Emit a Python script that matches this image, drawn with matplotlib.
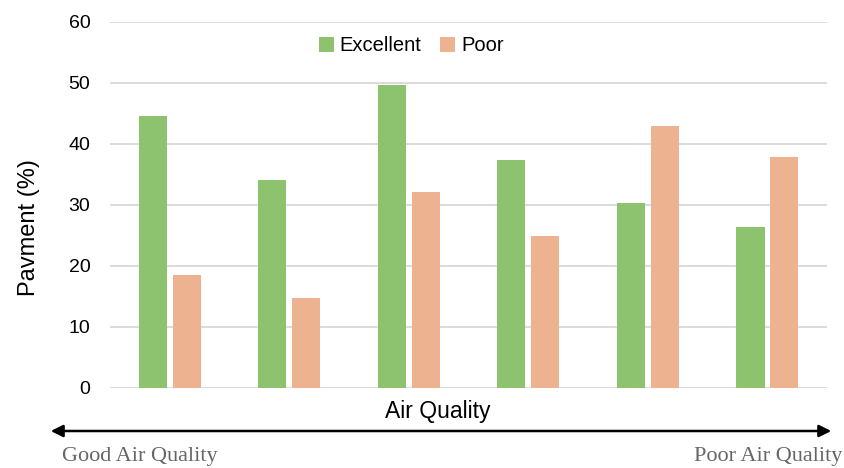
import matplotlib
matplotlib.use("Agg")
import matplotlib.pyplot as plt
import numpy as np

plt.rcParams["font.family"] = ["Liberation Sans", "DejaVu Sans"]

categories = ["1", "2", "3", "4", "5", "6"]
excellent = [44.6, 34.1, 49.7, 37.4, 30.3, 26.4]
poor = [18.5, 14.7, 32.1, 24.9, 42.9, 37.9]
yticks = [0, 10, 20, 30, 40, 50, 60]

green = "#8dc26f"
orange = "#edb28f"

fig = plt.figure(figsize=(8.45, 4.68), dpi=100)
ax = fig.add_axes([0.130, 0.171, 0.849, 0.782])

x = np.arange(len(categories))
w = 0.235
off = 0.142
ax.bar(x - off, excellent, w, color=green, label="Excellent", zorder=3)
ax.bar(x + off, poor, w, color=orange, label="Poor", zorder=3)

ax.set_xlim(-0.5, len(categories) - 0.5)
ax.set_ylim(0, 60)
ax.set_yticks(yticks)
ax.set_xticks([])
ax.yaxis.grid(True, color="#d9d9d9", linewidth=1.3, zorder=0)
for s in ax.spines.values():
    s.set_visible(False)
ax.tick_params(axis="y", length=0, labelsize=14, pad=14)

ax.set_ylabel("Pavment (%)", fontsize=17)
ax.yaxis.set_label_coords(-0.098, 0.437)
ax.text(0.457, -0.063, "Air Quality", transform=ax.transAxes, fontsize=16.5,
        ha="center", va="center")

ax.legend(loc="center", bbox_to_anchor=(0.42, 0.935), ncol=2, frameon=False,
          fontsize=14.5, handlelength=0.75, handleheight=0.75, handletextpad=0.3,
          columnspacing=0.9)

# Direction arrow beneath the axis
fig.add_artist(matplotlib.patches.FancyArrowPatch(
    (48 / 845, 1 - 431 / 468), (834 / 845, 1 - 431 / 468),
    transform=fig.transFigure, arrowstyle="<|-|>", mutation_scale=18,
    color="black", linewidth=1.8))
fig.text(62 / 845, 1 - 456 / 468, "Good Air Quality", family="Liberation Serif",
         fontsize=16, color="#666666", ha="left", va="center")
fig.text(842 / 845, 1 - 456 / 468, "Poor Air Quality", family="Liberation Serif",
         fontsize=16, color="#666666", ha="right", va="center")

fig.savefig("out.png", dpi=100)
